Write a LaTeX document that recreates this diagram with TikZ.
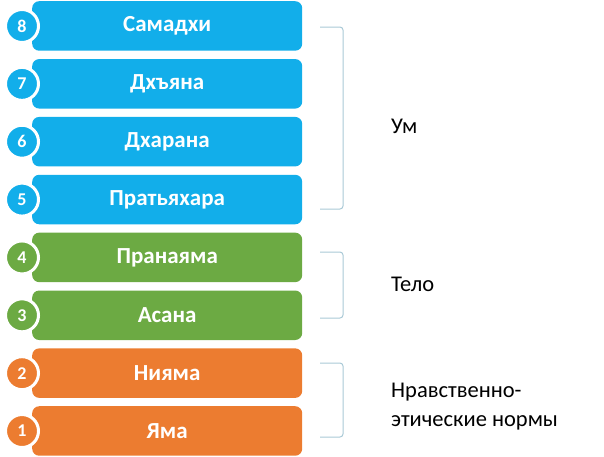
\documentclass[tikz,border=0pt]{standalone}
\usepackage{fontspec}
\setmainfont{Carlito}
\definecolor{cblue}{HTML}{12AEEA}
\definecolor{cgreen}{HTML}{6CAA43}
\definecolor{corange}{HTML}{EC7C30}
\definecolor{cbrack}{HTML}{A9C9D6}
\begin{document}
\begin{tikzpicture}[x=1pt,y=-1pt,
  bar/.style={draw=none,rounded corners=7pt,minimum width=270pt,minimum height=49.5pt,
    inner sep=0pt,text=white,font=\fontsize{23}{25}\selectfont\bfseries,anchor=north west},
  num/.style={circle,draw=white,line width=3pt,minimum size=33pt,inner sep=0pt,
    text=white,font=\fontsize{18}{20}\selectfont\bfseries},
  brack/.style={draw=cbrack,line width=1pt,rounded corners=3pt},
  lab/.style={font=\fontsize{22.5}{29}\selectfont,anchor=west,align=left,inner sep=0pt}]
\useasboundingbox (0,0) rectangle (604,456);
\foreach \i/\t/\c in {8/Самадхи/cblue,7/Дхъяна/cblue,6/Дхарана/cblue,5/Пратьяхара/cblue,
  4/Пранаяма/cgreen,3/Асана/cgreen,2/Нияма/corange,1/Яма/corange}{
  \pgfmathsetmacro{\yy}{1+(8-\i)*57.86}
  \node[bar,fill=\c] (b\i) at (32,\yy) {\t};
  \node[num,fill=\c] (n\i) at (22,\yy+25) {\i};
}
\coordinate (u1) at (320,27);
\coordinate (u2) at (320,209);
\coordinate (t1) at (320,252);
\coordinate (t2) at (320,318);
\coordinate (h1) at (320,363);
\coordinate (h2) at (320,437);
\draw[brack] (u1) -- ++(23,0) -- ++(0,182) -- (u2);
\draw[brack] (t1) -- ++(23,0) -- ++(0,66) -- (t2);
\draw[brack] (h1) -- ++(23,0) -- ++(0,74) -- (h2);
\node[lab] (um) at (391,126) {Ум};
\node[lab] (telo) at (391,284) {Тело};
\node[lab] (nr) at (391,407) {Нравственно-\\этические нормы};
\end{tikzpicture}
\end{document}
